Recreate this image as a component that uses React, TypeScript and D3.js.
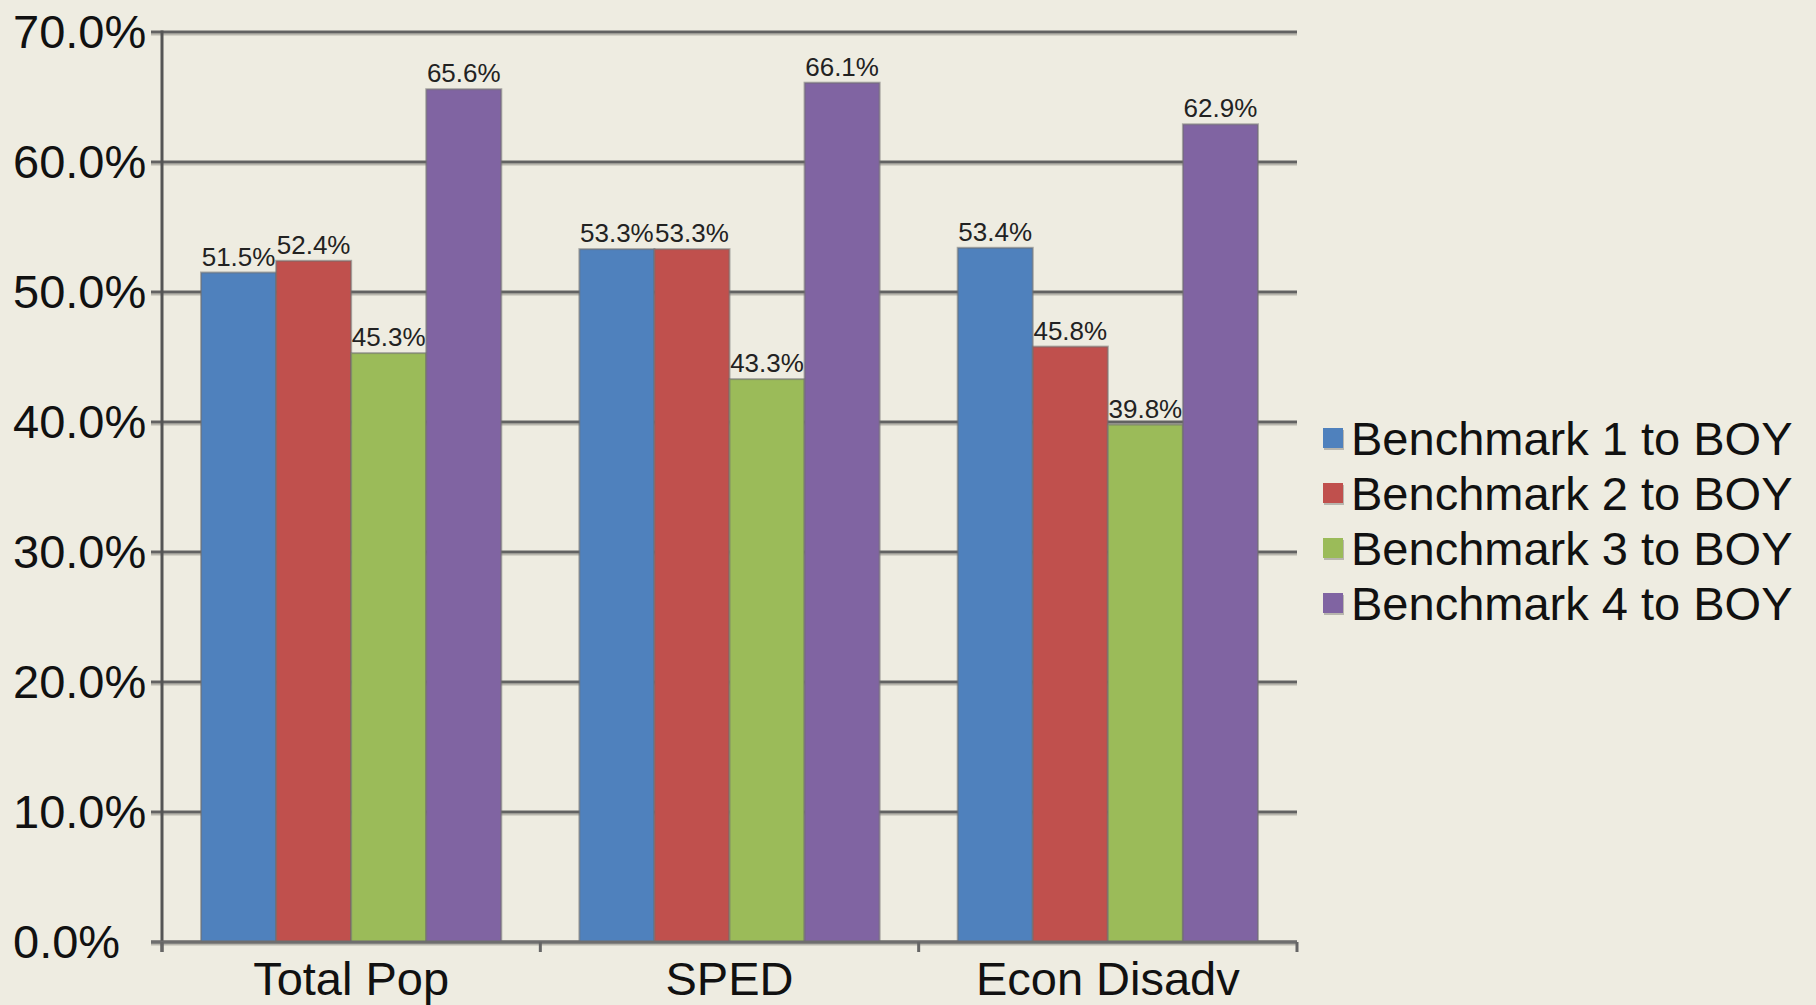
import React from "react";
import * as d3 from "d3";

const categories = ["Total Pop", "SPED", "Econ Disadv"];
const seriesNames = [
  "Benchmark 1 to BOY",
  "Benchmark 2 to BOY",
  "Benchmark 3 to BOY",
  "Benchmark 4 to BOY",
];
const bench1 = [51.5, 53.3, 53.4];
const bench2 = [52.4, 53.3, 45.8];
const bench3 = [45.3, 43.3, 39.8];
const bench4 = [65.6, 66.1, 62.9];
const yTicks = [0, 10, 20, 30, 40, 50, 60, 70];
const colors = ["#4F81BD", "#C0504D", "#9BBB59", "#8064A2"];

const W = 1816;
const H = 1005;
const FONT = "'Liberation Sans', Arial, sans-serif";

export default function App() {
  const series = [bench1, bench2, bench3, bench4];
  const left = 162;
  const right = 1297;
  const top = 32;
  const bottom = 942;

  const y = d3.scaleLinear().domain([0, 70]).range([bottom, top]);
  const x0 = d3.scaleBand<string>().domain(categories).range([left, right]).padding(0);
  const x1 = d3
    .scaleBand<string>()
    .domain(seriesNames)
    .range([0, x0.bandwidth()])
    .paddingInner(0)
    .paddingOuter(0.52);

  const catTicks = [...categories.map((c) => x0(c) as number), right];

  return (
    <svg
      width={W}
      height={H}
      style={{ position: "absolute", left: 0, top: 0, display: "block" }}
      fontFamily={FONT}
    >
      <rect x={0} y={0} width={W} height={H} fill="#EEECE1" />
      {/* gridlines */}
      {yTicks.map((t) => (
        <g key={"g" + t}>
          <line x1={151} x2={right} y1={y(t) + 2.5} y2={y(t) + 2.5} stroke="#B9B7AE" strokeWidth={2} />
          <line x1={151} x2={right} y1={y(t)} y2={y(t)} stroke="#626262" strokeWidth={3} />
        </g>
      ))}
      {/* bars */}
      {categories.map((c, ci) => (
        <g key={c} transform={`translate(${x0(c)},0)`}>
          {series.map((s, si) => {
            const bx = x1(seriesNames[si]) as number;
            const bw = x1.bandwidth();
            return (
              <g key={si}>
                <rect
                  x={bx}
                  y={y(s[ci])}
                  width={bw}
                  height={bottom - y(s[ci])}
                  fill={colors[si]}
                  stroke="rgba(110,110,110,0.55)"
                  strokeWidth={2}
                />
                <text
                  x={bx + bw / 2}
                  y={y(s[ci]) - 7}
                  textAnchor="middle"
                  fontSize={26}
                  fill="#222"
                >
                  {s[ci].toFixed(1) + "%"}
                </text>
              </g>
            );
          })}
        </g>
      ))}
      {/* axes */}
      <line x1={left} x2={left} y1={top - 1.5} y2={bottom + 10} stroke="#555" strokeWidth={3} />
      <line x1={151} x2={right} y1={bottom} y2={bottom} stroke="#6E6E6E" strokeWidth={3} />
      {catTicks.map((t, i) => (
        <line key={"ct" + i} x1={t} x2={t} y1={bottom} y2={bottom + 10} stroke="#666" strokeWidth={3} />
      ))}
      {yTicks.map((t) => (
        <text
          key={"yl" + t}
          x={13}
          y={y(t) + 16}
          textAnchor="start"
          fontSize={47}
          fill="#111"
        >
          {t.toFixed(1) + "%"}
        </text>
      ))}
      {categories.map((c) => (
        <text
          key={"xl" + c}
          x={(x0(c) as number) + x0.bandwidth() / 2}
          y={995}
          textAnchor="middle"
          fontSize={47}
          fill="#111"
        >
          {c}
        </text>
      ))}
      {/* legend */}
      {seriesNames.map((n, i) => {
        const cy = 438 + i * 55;
        return (
          <g key={"lg" + n}>
            <rect x={1324} y={cy - 8} width={20} height={20} fill="#B8B6AE" />
            <rect x={1323} y={cy - 10} width={20} height={20} fill={colors[i]} />
            <text x={1351} y={cy + 17} fontSize={47} fill="#111">
              {n}
            </text>
          </g>
        );
      })}
    </svg>
  );
}
